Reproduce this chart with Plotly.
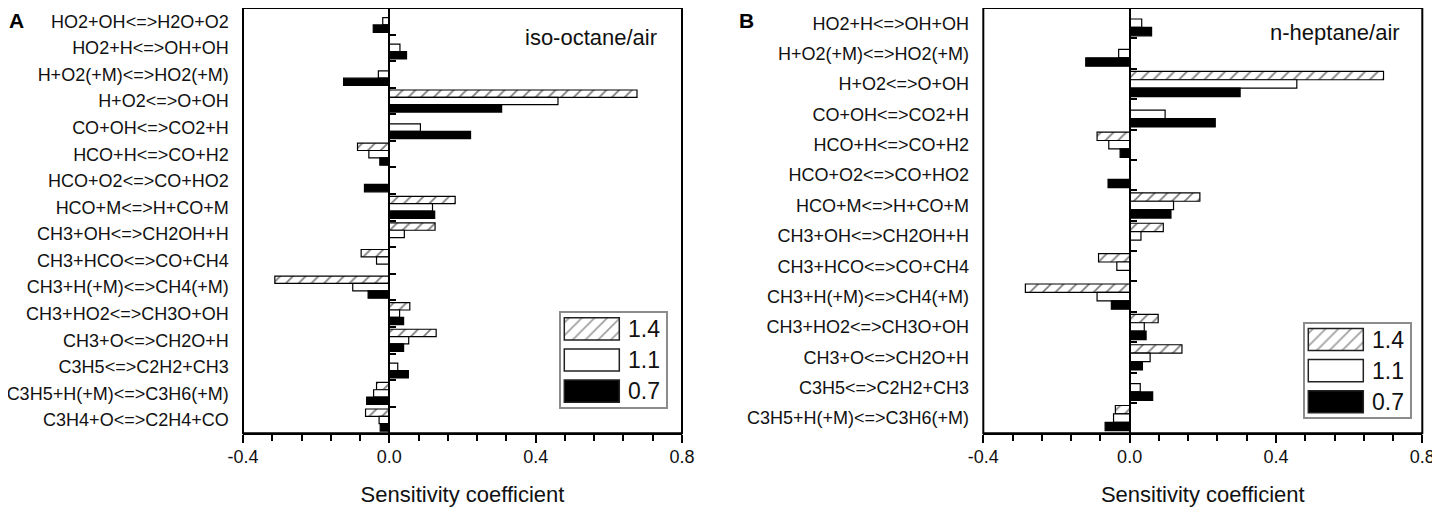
import plotly.graph_objects as go

# The page body has an 8 px default margin, so the figure is drawn 8 px smaller
# and every pixel position below is given in reference-image pixels minus OFF.
OFF = 8
W, H = 1440 - OFF, 514 - OFF
FONT = "Liberation Sans, Arial, sans-serif"
INK = "#111111"

# ---------------- data ----------------
cats_a = ["HO2+OH<=>H2O+O2", "HO2+H<=>OH+OH", "H+O2(+M)<=>HO2(+M)", "H+O2<=>O+OH",
          "CO+OH<=>CO2+H", "HCO+H<=>CO+H2", "HCO+O2<=>CO+HO2", "HCO+M<=>H+CO+M",
          "CH3+OH<=>CH2OH+H", "CH3+HCO<=>CO+CH4", "CH3+H(+M)<=>CH4(+M)", "CH3+HO2<=>CH3O+OH",
          "CH3+O<=>CH2O+H", "C3H5<=>C2H2+CH3", "C3H5+H(+M)<=>C3H6(+M)", "C3H4+O<=>C2H4+CO"]
a_14 = [None, None, None, 0.677, None, -0.087, None, 0.180, 0.125, -0.077, -0.313, 0.056, 0.128, None, -0.035, -0.065]
a_11 = [-0.018, 0.029, -0.030, 0.461, 0.085, -0.056, None, 0.118, 0.041, -0.035, -0.100, 0.028, 0.053, 0.023, -0.043, -0.028]
a_07 = [-0.044, 0.047, -0.125, 0.307, 0.222, -0.026, -0.068, 0.124, None, None, -0.058, 0.039, 0.039, 0.052, -0.062, -0.025]

cats_b = ["HO2+H<=>OH+OH", "H+O2(+M)<=>HO2(+M)", "H+O2<=>O+OH", "CO+OH<=>CO2+H",
          "HCO+H<=>CO+H2", "HCO+O2<=>CO+HO2", "HCO+M<=>H+CO+M", "CH3+OH<=>CH2OH+H",
          "CH3+HCO<=>CO+CH4", "CH3+H(+M)<=>CH4(+M)", "CH3+HO2<=>CH3O+OH", "CH3+O<=>CH2O+H",
          "C3H5<=>C2H2+CH3", "C3H5+H(+M)<=>C3H6(+M)"]
b_14 = [None, None, 0.694, None, -0.089, None, 0.192, 0.092, -0.085, -0.285, 0.078, 0.143, None, -0.039]
b_11 = [0.033, -0.030, 0.457, 0.097, -0.057, None, 0.120, 0.031, -0.035, -0.089, 0.040, 0.056, 0.029, -0.044]
b_07 = [0.060, -0.120, 0.302, 0.234, -0.026, -0.059, 0.113, None, None, -0.050, 0.045, 0.035, 0.063, -0.067]

series_names = ["1.4", "1.1", "0.7"]
x_ticks = [-0.4, 0.0, 0.4, 0.8]
x_tick_labels = ["-0.4", "0.0", "0.4", "0.8"]
x_range = [-0.4, 0.8]
panel_titles = ["iso-octane/air", "n-heptane/air"]
panel_letters = ["A", "B"]
x_title = "Sensitivity coefficient"

# ---------------- styles ----------------
HATCH = dict(shape="/", fgcolor="black", bgcolor="white", size=9, solidity=0.2)
styles = [
    dict(color="white", pattern=HATCH, line=dict(color="black", width=1.2)),
    dict(color="white", line=dict(color="black", width=1.2)),
    dict(color="black", line=dict(color="black", width=1.2)),
]


def px_x(p):
    return min(max((p - OFF) / W, 0.0), 1.0)


def px_y(p):
    return min(max(1 - (p - OFF) / H, 0.0), 1.0)


# layout geometry (reference pixels)
dom_a = (243, 682)
dom_b = (983.3, 1422.3)
y_top, y_bot = 8.0, 433.3
ydom = [px_y(y_bot), px_y(y_top)]

fig = go.Figure()

panels = [
    ("x", "y", cats_a, [a_14, a_11, a_07], dom_a),
    ("x2", "y2", cats_b, [b_14, b_11, b_07], dom_b),
]

for xa, ya, cats, vals, dom in panels:
    for name, v, st in zip(series_names, vals, styles):
        fig.add_trace(go.Bar(y=cats, x=v, orientation="h", name=name, marker=st,
                             xaxis=xa, yaxis=ya, showlegend=False, hoverinfo="x+y"))

# legend insets drawn as tiny bar charts
leg_boxes = [((561, 666), (313.3, 406.7)), ((1305, 1410), (324, 417.3))]
leg_axes = [("x3", "y3"), ("x4", "y4")]
for (xa, ya) in leg_axes:
    fig.add_trace(go.Bar(y=series_names, x=[1, 1, 1], orientation="h", width=0.71,
                         marker=dict(color=["white", "white", "black"],
                                     pattern=dict(shape=["/", "", ""], fgcolor="black", bgcolor="white",
                                                  size=9, solidity=0.2),
                                     line=dict(color="#222222", width=1.5)),
                         xaxis=xa, yaxis=ya, showlegend=False, hoverinfo="skip"))

layout = dict(
    width=W, height=H, margin=dict(l=0, r=0, t=0, b=0, autoexpand=False),
    paper_bgcolor="white", plot_bgcolor="white",
    font=dict(family=FONT, color=INK, size=18),
    barmode="group", bargap=0.17, bargroupgap=0,
    showlegend=False,
)

annotations = []
shapes = []
for i, (xa, ya, cats, vals, dom) in enumerate(panels):
    xkey = "xaxis" if xa == "x" else "xaxis2"
    ykey = "yaxis" if ya == "y" else "yaxis2"
    xd = [px_x(dom[0]), px_x(dom[1])]
    zero_frac = (0 - x_range[0]) / (x_range[1] - x_range[0])
    zero_px = dom[0] + zero_frac * (dom[1] - dom[0])
    layout[xkey] = dict(
        domain=xd, range=x_range, anchor=ya, showgrid=False, zeroline=False, automargin=False,
        showline=True, linecolor="black", linewidth=2, mirror=True,
        tickmode="array", tickvals=x_ticks, ticktext=x_tick_labels,
        ticks="outside", ticklen=8, tickwidth=1.5, tickcolor="black",
        tickfont=dict(size=18, color=INK),
        minor=dict(tickmode="linear", tick0=-0.4, dtick=0.08, ticks="outside",
                   ticklen=6, tickwidth=1.5, tickcolor="black", showgrid=False),
        ticklabelstandoff=-2,
        title=dict(text=x_title, font=dict(size=22, color=INK), standoff=21),
    )
    layout[ykey] = dict(
        domain=ydom, type="category", categoryorder="array", categoryarray=cats,
        range=[len(cats) - 0.5, -0.5], anchor="free", position=px_x(zero_px), automargin=False,
        showline=True, linecolor="black", linewidth=2,
        ticks="inside", tickson="boundaries", ticklen=6, tickwidth=1.5, tickcolor="black",
        showgrid=False, zeroline=False,
        tickfont=dict(size=18, color=INK),
        ticklabelstandoff=int(round((zero_px - dom[0]) + 10)),
    )
    shapes.append(dict(type="rect", xref=f"{xa} domain", yref=f"{ya} domain",
                       x0=0, x1=1, y0=0, y1=1, line=dict(color="black", width=2),
                       fillcolor="rgba(0,0,0,0)", layer="above"))

# legend inset axes
for (xa, ya), ((lx0, lx1), (ly0, ly1)) in zip(leg_axes, leg_boxes):
    sw0 = lx0 + 3.3
    sw_w = 55.0
    xr = [(lx0 - sw0) / sw_w, (lx1 - sw0) / sw_w]
    layout["xaxis" + xa[1:]] = dict(domain=[px_x(lx0), px_x(lx1)], range=xr, anchor=ya, automargin=False,
                                    showline=True, mirror=True, linecolor="#8c8c8c", linewidth=1.5,
                                    showticklabels=False, ticks="", showgrid=False, zeroline=False)
    layout["yaxis" + ya[1:]] = dict(domain=[px_y(ly1), px_y(ly0)], type="category",
                                    range=[len(series_names) - 0.5, -0.5], anchor=xa, automargin=False,
                                    showline=True, mirror=True, linecolor="#8c8c8c", linewidth=1.5,
                                    showticklabels=False, ticks="", showgrid=False, zeroline=False)
    for k, nm in enumerate(series_names):
        annotations.append(dict(x=1.13, y=k, xref=xa, yref=ya, text=nm, showarrow=False,
                                xanchor="left", yanchor="middle", font=dict(size=23, color=INK)))

# panel titles and letters
annotations += [
    dict(x=px_x(522.7), y=px_y(37.5), xref="paper", yref="paper", text=panel_titles[0],
         showarrow=False, xanchor="left", yanchor="middle", font=dict(size=22, color=INK)),
    dict(x=px_x(1268.3), y=px_y(32.5), xref="paper", yref="paper", text=panel_titles[1],
         showarrow=False, xanchor="left", yanchor="middle", font=dict(size=22, color=INK)),
    dict(x=0.0, y=1.0, xref="paper", yref="paper", text="<b>%s</b>" % panel_letters[0],
         showarrow=False, xanchor="left", yanchor="top", borderpad=0,
         font=dict(size=21, color="black")),
    dict(x=px_x(738), y=1.0, xref="paper", yref="paper", text="<b>%s</b>" % panel_letters[1],
         showarrow=False, xanchor="left", yanchor="top", borderpad=0,
         font=dict(size=21, color="black")),
]

layout["annotations"] = annotations
layout["shapes"] = shapes
fig.update_layout(**layout)

fig.write_html("out.html")
